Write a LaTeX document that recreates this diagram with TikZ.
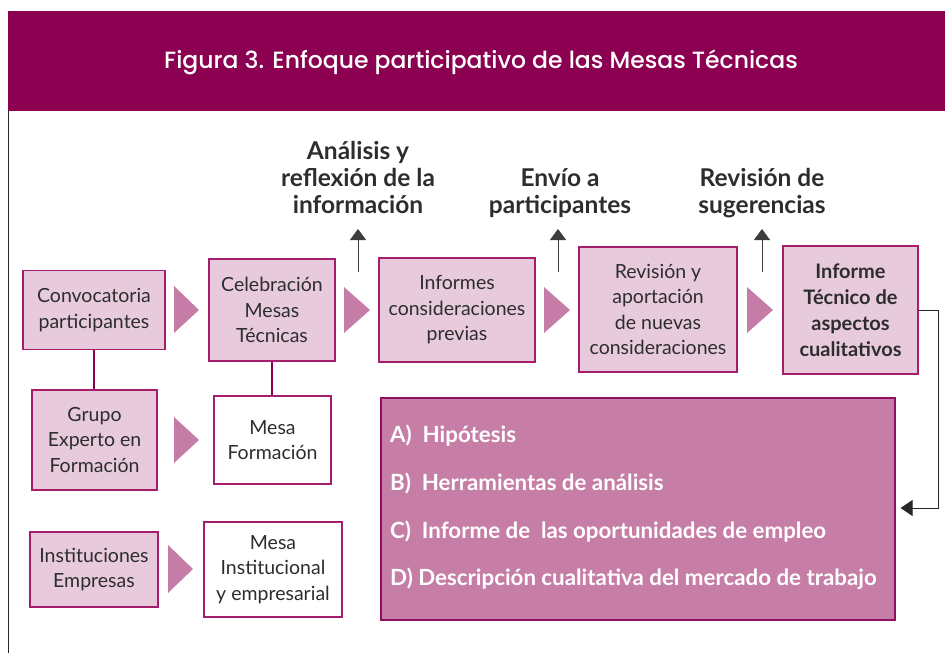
\documentclass[tikz,border=0pt]{standalone}
\usepackage{fontspec}
\setmainfont{Lato}
\newfontfamily\titlefont{Poppins}[BoldFont={Poppins Medium}]
\usetikzlibrary{arrows.meta}
\definecolor{titlebg}{RGB}{140,0,82}
\definecolor{boxfill}{RGB}{232,202,221}
\definecolor{boxline}{RGB}{165,30,110}
\definecolor{tri}{RGB}{197,124,167}
\definecolor{bigfill}{RGB}{198,126,167}
\definecolor{bigline}{RGB}{145,15,95}
\definecolor{txt}{RGB}{45,45,45}
\definecolor{link}{RGB}{140,0,82}
\definecolor{arrgray}{RGB}{60,60,60}
\begin{document}
\begin{tikzpicture}[x=1pt,y=-1pt,
  pinkbox/.style={draw=boxline, line width=1.2pt, fill=boxfill, text=txt, align=center,
    font=\fontsize{19.5}{25.5}\selectfont, inner sep=0pt},
  whitebox/.style={pinkbox, fill=white},
  boldbox/.style={pinkbox, font=\fontsize{20}{26}\selectfont\bfseries},
  toplabel/.style={text=txt, align=center, font=\fontsize{24.5}{27}\selectfont\bfseries, inner sep=0pt},
  listitem/.style={anchor=base west, text=white, font=\fontsize{22.3}{24}\selectfont\bfseries, inner sep=0pt},
  tri/.style={fill=tri},
  uparrow/.style={draw=arrgray, line width=1pt, -{Triangle[length=11pt,width=16pt]}},
  joinline/.style={draw=link, line width=2.6pt},
]
\useasboundingbox (0,0) rectangle (945,653);
% title bar
\fill[titlebg] (8,11) rectangle (945,111);
\node[text=white, font=\titlefont\bfseries\fontsize{23.5}{28}\selectfont, inner sep=0pt] (title) at (481,62)
  {Figura 3. Enfoque participativo de las Mesas Técnicas};
\draw[line width=1pt, black!85] (8,111) -- (8,653);

% main row
\node[pinkbox, minimum width=142pt, minimum height=79pt] (conv) at (94,310) {Convocatoria\\participantes};
\node[pinkbox, minimum width=126pt, minimum height=102pt] (celeb) at (272,310) {Celebración\\Mesas\\Técnicas};
\node[pinkbox, minimum width=156pt, minimum height=104pt] (infp) at (457,310) {Informes\\consideraciones\\previas};
\node[pinkbox, minimum width=158pt, minimum height=125pt] (revi) at (658,309.5) {Revisión y\\aportación\\de nuevas\\consideraciones};
\node[boldbox, minimum width=135pt, minimum height=128pt] (inft) at (850.5,310) {Informe\\Técnico de\\aspectos\\cualitativos};

% second and third rows
\node[pinkbox, minimum width=125pt, minimum height=100pt] (grupo) at (94.5,440) {Grupo\\Experto en\\Formación};
\node[whitebox, minimum width=117pt, minimum height=88pt] (mform) at (272.5,440) {Mesa\\Formación};
\node[pinkbox, minimum width=128pt, minimum height=75pt] (inst) at (94,569.5) {Instituciones\\Empresas};
\node[whitebox, minimum width=138pt, minimum height=95pt] (minst) at (273,569.5) {Mesa\\Institucional\\y empresarial};

% vertical joins
\draw[joinline] (conv.south) -- (grupo.north -| conv.south);
\draw[joinline] (celeb.south) -- (mform.north -| celeb.south);

% triangles
\fill[tri] (174,286) -- (199,310) -- (174,333) -- cycle;
\fill[tri] (344,287) -- (370,310) -- (344,333) -- cycle;
\fill[tri] (544,287) -- (570,310) -- (544,333) -- cycle;
\fill[tri] (747,287) -- (773,310) -- (747,333) -- cycle;
\fill[tri] (174,417) -- (199,440) -- (174,463) -- cycle;
\fill[tri] (168,545) -- (193,569) -- (168,593) -- cycle;

% top labels and up arrows
\node[toplabel] (lab1) at (358,177) {Análisis y\\reflexión de la\\información};
\node[toplabel] (lab2) at (560,193.5) {Envío a\\participantes};
\node[toplabel] (lab3) at (762,193.5) {Revisión de\\sugerencias};
\coordinate (a1s) at (358,272); \coordinate (a1t) at (358,229);
\coordinate (a2s) at (558,272); \coordinate (a2t) at (558,229);
\coordinate (a3s) at (762,272); \coordinate (a3t) at (762,229);
\draw[uparrow] (a1s) -- (a1t);
\draw[uparrow] (a2s) -- (a2t);
\draw[uparrow] (a3s) -- (a3t);

% big box
\node[draw=bigline, line width=1.2pt, fill=bigfill, minimum width=514pt, minimum height=222pt, inner sep=0pt] (big) at (638,509) {};
\node[listitem] (la) at (390,442) {A)\ \ Hipótesis};
\node[listitem] (lb) at (390,490) {B)\ \ Herramientas de análisis};
\node[listitem] (lc) at (390,538) {C)\ \ Informe de\ \ las oportunidades de empleo};
\node[listitem] (ld) at (390,585) {D) Descripción cualitativa del mercado de trabajo};

% right connector
\coordinate (r1) at (938,310);
\coordinate (r2) at (938,508);
\draw[line width=1pt, black!85, -{Triangle[length=12pt,width=16pt]}, shorten >=5pt]
  (inft.east) -- (r1) -- (r2) -- (big.east |- r2);
\end{tikzpicture}
\end{document}
